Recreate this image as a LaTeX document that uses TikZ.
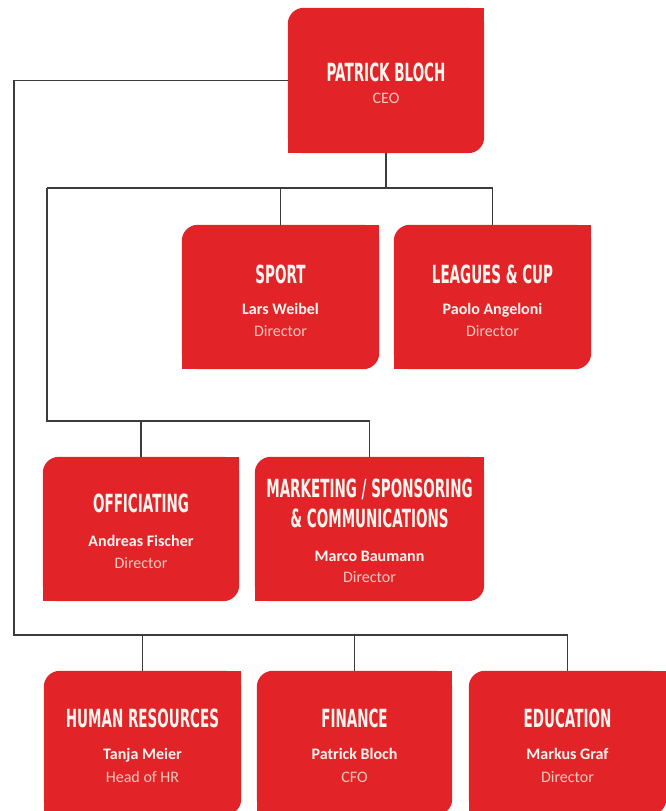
\documentclass[tikz,border=0pt]{standalone}
\usepackage{fontspec}
\usetikzlibrary{backgrounds}
\newfontfamily\headfont[FakeStretch=0.54]{DejaVu Sans}
\newfontfamily\bodyfont{Carlito}
\definecolor{boxred}{RGB}{226,36,41}
\definecolor{headwhite}{RGB}{255,246,240}
\definecolor{rolepink}{RGB}{247,200,190}
\definecolor{linegray}{RGB}{60,60,60}
\tikzset{box/.style = {rectangle,inner sep=0pt,minimum width=197pt,minimum height=144pt},
         head/.style = {anchor=base,text=headwhite,font=\headfont\bfseries\fontsize{25}{26}\selectfont},
         who/.style = {anchor=base,text=headwhite,font=\bodyfont\bfseries\fontsize{16}{18}\selectfont},
         role/.style = {anchor=base,text=rolepink,font=\bodyfont\fontsize{16}{18}\selectfont},
         link/.style = {draw=linegray,line width=1.5pt}}

\begin{document}
\begin{tikzpicture}[x=1pt,y=-1pt]
    \useasboundingbox (0,0) rectangle (666,811);
    \node[box,minimum width=196pt,minimum height=145pt] (ceo) at (386,80.5) {};
    \node[box] (sport) at (280.5,297) {};
    \node[box] (leagues) at (492.5,297) {};
    \node[box,minimum width=196pt] (offic) at (141,529) {};
    \node[box,minimum width=229pt] (market) at (369.5,529) {};
    \node[box] (hr) at (142.5,743) {};
    \node[box,minimum width=195pt] (fin) at (354.5,743) {};
    \node[box] (edu) at (567.5,743) {};
    \begin{scope}[on background layer]
        \foreach \n in {ceo,sport,leagues,offic,market,hr,fin,edu} {
            \fill[boxred,rounded corners=16pt] (\n.south west) rectangle (\n.north east);
            \fill[boxred] (\n.north east) rectangle ([xshift=-20pt,yshift=-20pt]\n.north east);
            \fill[boxred] (\n.south west) rectangle ([xshift=20pt,yshift=20pt]\n.south west);
        }
    \end{scope}
    \node[head] (ceoT) at (386,81) {PATRICK BLOCH};
    \node[role] (ceoR) at (386,103) {CEO};
    \node[head] (sportT) at (280.5,283) {SPORT};
    \node[who] (sportN) at (280.5,314) {Lars Weibel};
    \node[role] (sportR) at (280.5,336) {Director};
    \node[head] (leaguesT) at (492.5,283) {LEAGUES \& CUP};
    \node[who] (leaguesN) at (492.5,314) {Paolo Angeloni};
    \node[role] (leaguesR) at (492.5,336) {Director};
    \node[head] (officT) at (141,512) {OFFICIATING};
    \node[who] (officN) at (141,546) {Andreas Fischer};
    \node[role] (officR) at (141,568) {Director};
    \node[head] (marketT) at (369.5,497) {MARKETING / SPONSORING};
    \node[head] (marketU) at (369.5,527) {\& COMMUNICATIONS};
    \node[who] (marketN) at (369.5,561) {Marco Baumann};
    \node[role] (marketR) at (369.5,582) {Director};
    \node[head] (hrT) at (142.5,727) {HUMAN RESOURCES};
    \node[who] (hrN) at (142.5,759) {Tanja Meier};
    \node[role] (hrR) at (142.5,782) {Head of HR};
    \node[head] (finT) at (354.5,727) {FINANCE};
    \node[who] (finN) at (354.5,759) {Patrick Bloch};
    \node[role] (finR) at (354.5,782) {CFO};
    \node[head] (eduT) at (567.5,727) {EDUCATION};
    \node[who] (eduN) at (567.5,759) {Markus Graf};
    \node[role] (eduR) at (567.5,782) {Director};
    \coordinate (m) at (47,188);
    \coordinate (n) at (47,421);
    \coordinate (l) at (14,635);
    \draw[link] (ceo.south) |- (m) -| (leagues.north);
    \draw[link] (sport.north) -- (sport.north |- m);
    \draw[link] (m) -- (n) -| (market.north);
    \draw[link] (offic.north) -- (offic.north |- n);
    \draw[link] (ceo.west) -| (l) -| (edu.north);
    \draw[link] (hr.north) -- (hr.north |- l);
    \draw[link] (fin.north) -- (fin.north |- l);
\end{tikzpicture}
\end{document}
